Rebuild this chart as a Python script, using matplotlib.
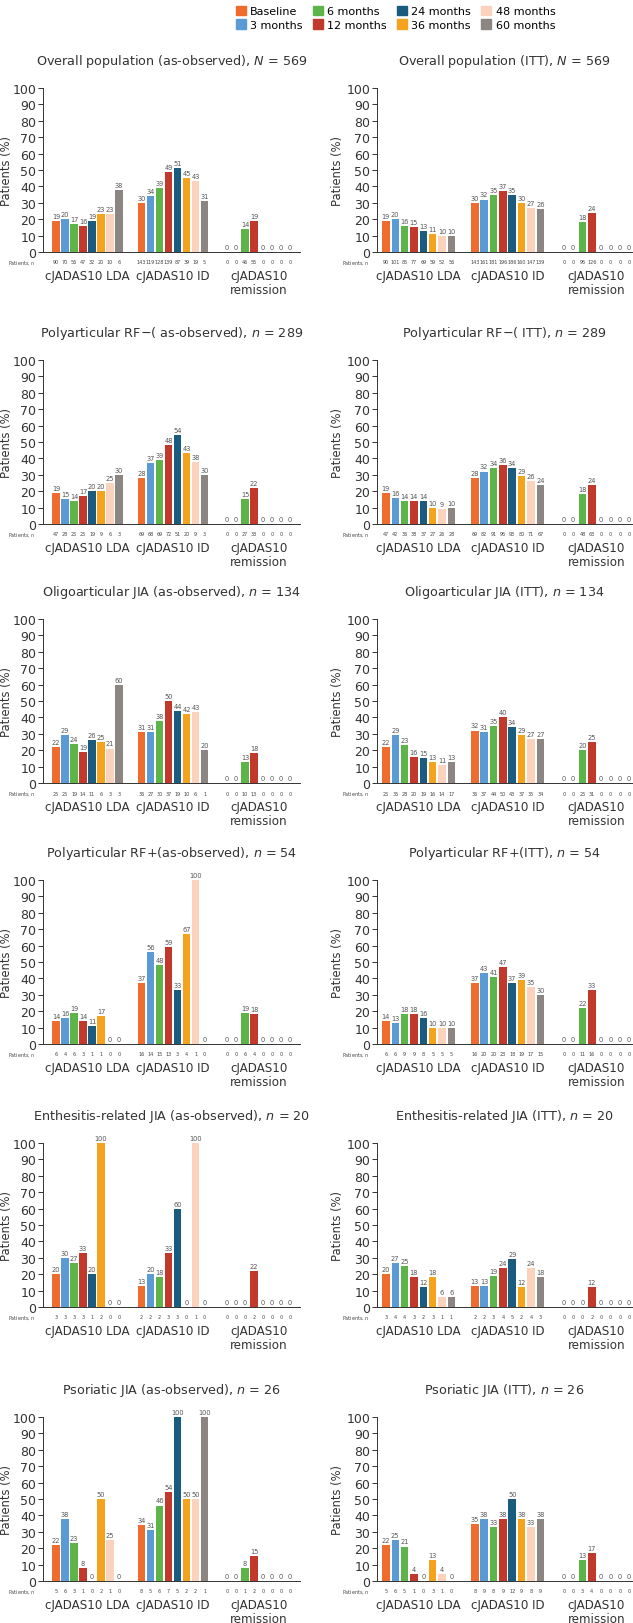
import matplotlib.pyplot as plt
from matplotlib.patches import Patch

plt.rcParams['font.family'] = ['DejaVu Sans']

# series names and colours
months = ['Baseline', '3 months', '6 months', '12 months',
          '24 months', '36 months', '48 months', '60 months']
colors = ['#EF6C2F', '#5B9BD5', '#5DB54A', '#C0392B',
          '#1A5C80', '#F5A21C', '#FBD3BC', '#8C8581']
groups = ['cJADAS10 LDA', 'cJADAS10 ID', 'cJADAS10\nremission']

# % of patients per group (LDA, ID, remission) and patients n
overall_obs_pct = [[19, 20, 17, 16, 19, 23, 23, 38], [30, 34, 39, 49, 51, 45, 43, 31], [0, 0, 14, 19, 0, 0, 0, 0]]
overall_obs_n = [[90, 70, 56, 47, 32, 20, 10, 6], [143, 119, 128, 139, 87, 39, 19, 5], [0, 0, 46, 55, 0, 0, 0, 0]]
overall_itt_pct = [[19, 20, 16, 15, 13, 11, 10, 10], [30, 32, 35, 37, 35, 30, 27, 26], [0, 0, 18, 24, 0, 0, 0, 0]]
overall_itt_n = [[90, 101, 85, 77, 69, 59, 52, 56], [143, 161, 181, 196, 186, 160, 147, 139], [0, 0, 96, 126, 0, 0, 0, 0]]

polyneg_obs_pct = [[19, 15, 14, 17, 20, 20, 25, 30], [28, 37, 39, 48, 54, 43, 38, 30], [0, 0, 15, 22, 0, 0, 0, 0]]
polyneg_obs_n = [[47, 28, 25, 25, 19, 9, 6, 3], [69, 68, 69, 72, 51, 20, 9, 3], [0, 0, 27, 33, 0, 0, 0, 0]]
polyneg_itt_pct = [[19, 16, 14, 14, 14, 10, 9, 10], [28, 32, 34, 36, 34, 29, 26, 24], [0, 0, 18, 24, 0, 0, 0, 0]]
polyneg_itt_n = [[47, 42, 36, 38, 37, 27, 26, 28], [69, 82, 91, 96, 93, 80, 71, 67], [0, 0, 48, 63, 0, 0, 0, 0]]

oligo_obs_pct = [[22, 29, 24, 19, 26, 25, 21, 60], [31, 31, 38, 50, 44, 42, 43, 20], [0, 0, 13, 18, 0, 0, 0, 0]]
oligo_obs_n = [[25, 25, 19, 14, 11, 6, 3, 3], [36, 27, 30, 37, 19, 10, 6, 1], [0, 0, 10, 13, 0, 0, 0, 0]]
oligo_itt_pct = [[22, 29, 23, 16, 15, 13, 11, 13], [32, 31, 35, 40, 34, 29, 27, 27], [0, 0, 20, 25, 0, 0, 0, 0]]
oligo_itt_n = [[25, 35, 28, 20, 19, 16, 14, 17], [36, 37, 44, 50, 43, 37, 35, 34], [0, 0, 25, 31, 0, 0, 0, 0]]

polypos_obs_pct = [[14, 16, 19, 14, 11, 17, 0, 0], [37, 56, 48, 59, 33, 67, 100, 0], [0, 0, 19, 18, 0, 0, 0, 0]]
polypos_obs_n = [[6, 4, 6, 3, 1, 1, 0, 0], [16, 14, 15, 13, 3, 4, 1, 0], [0, 0, 6, 4, 0, 0, 0, 0]]
polypos_itt_pct = [[14, 13, 18, 18, 16, 10, 10, 10], [37, 43, 41, 47, 37, 39, 35, 30], [0, 0, 22, 33, 0, 0, 0, 0]]
polypos_itt_n = [[6, 6, 9, 9, 8, 5, 5, 5], [16, 20, 20, 23, 18, 19, 17, 15], [0, 0, 11, 16, 0, 0, 0, 0]]

era_obs_pct = [[20, 30, 27, 33, 20, 100, 0, 0], [13, 20, 18, 33, 60, 0, 100, 0], [0, 0, 0, 22, 0, 0, 0, 0]]
era_obs_n = [[3, 3, 3, 3, 1, 2, 0, 0], [2, 2, 2, 3, 3, 0, 1, 0], [0, 0, 0, 2, 0, 0, 0, 0]]
era_itt_pct = [[20, 27, 25, 18, 12, 18, 6, 6], [13, 13, 19, 24, 29, 12, 24, 18], [0, 0, 0, 12, 0, 0, 0, 0]]
era_itt_n = [[3, 4, 4, 3, 2, 3, 1, 1], [2, 2, 3, 4, 5, 2, 4, 3], [0, 0, 0, 2, 0, 0, 0, 0]]

pso_obs_pct = [[22, 38, 23, 8, 0, 50, 25, 0], [34, 31, 46, 54, 100, 50, 50, 100], [0, 0, 8, 15, 0, 0, 0, 0]]
pso_obs_n = [[5, 6, 3, 1, 0, 2, 1, 0], [8, 5, 6, 7, 5, 2, 2, 1], [0, 0, 1, 2, 0, 0, 0, 0]]
pso_itt_pct = [[22, 25, 21, 4, 0, 13, 4, 0], [35, 38, 33, 38, 50, 38, 33, 38], [0, 0, 13, 17, 0, 0, 0, 0]]
pso_itt_n = [[5, 6, 5, 1, 0, 3, 1, 0], [8, 9, 8, 9, 12, 9, 8, 9], [0, 0, 3, 4, 0, 0, 0, 0]]

titles = [
    ('Overall population (as-observed), $N$ = 569', 'Overall population (ITT), $N$ = 569'),
    ('Polyarticular RF\u2212( as-observed), $n$ = 289', 'Polyarticular RF\u2212( ITT), $n$ = 289'),
    ('Oligoarticular JIA (as-observed), $n$ = 134', 'Oligoarticular JIA (ITT), $n$ = 134'),
    ('Polyarticular RF+(as-observed), $n$ = 54', 'Polyarticular RF+(ITT), $n$ = 54'),
    ('Enthesitis-related JIA (as-observed), $n$ = 20', 'Enthesitis-related JIA (ITT), $n$ = 20'),
    ('Psoriatic JIA (as-observed), $n$ = 26', 'Psoriatic JIA (ITT), $n$ = 26'),
]
data = [
    ((overall_obs_pct, overall_obs_n), (overall_itt_pct, overall_itt_n)),
    ((polyneg_obs_pct, polyneg_obs_n), (polyneg_itt_pct, polyneg_itt_n)),
    ((oligo_obs_pct, oligo_obs_n), (oligo_itt_pct, oligo_itt_n)),
    ((polypos_obs_pct, polypos_obs_n), (polypos_itt_pct, polypos_itt_n)),
    ((era_obs_pct, era_obs_n), (era_itt_pct, era_itt_n)),
    ((pso_obs_pct, pso_obs_n), (pso_itt_pct, pso_itt_n)),
]

W, H = 633, 1624
fig = plt.figure(figsize=(W / 100, H / 100), dpi=100)

zero_y = [253, 525, 784, 1045, 1308, 1582]   # pixel row of the 0 line
ax_h = 164
# left edge, width, xlim, ylabel x (axes coords)
cols = [(43, 257, (-1.45, 27.1), -0.118), (377, 255, (-0.95, 26.3), -0.13)]
group_off = [0, 9.5, 19]
dark = '#333333'

for r in range(6):
    for c in range(2):
        left, width, xl, lab_x = cols[c]
        ax = fig.add_axes([left / W, 1 - zero_y[r] / H, width / W, ax_h / H])
        pct, n = data[r][c]
        for g in range(3):
            for i in range(8):
                x = group_off[g] + i
                ax.bar(x, pct[g][i], width=0.8, color=colors[i])
                ax.annotate(str(pct[g][i]), (x, pct[g][i]), xytext=(0, 1.5),
                            textcoords='offset points', ha='center', va='bottom',
                            fontsize=4.8, color='#555555', annotation_clip=False)
                ax.annotate(str(n[g][i]), (x, 0), xytext=(0, -7.2),
                            textcoords='offset points', ha='center', va='center',
                            fontsize=3.5, color='#444444', annotation_clip=False)
            ax.annotate(groups[g], (group_off[g] + 3.5, 0), xytext=(0, -12.5),
                        textcoords='offset points', ha='center', va='top',
                        fontsize=8.6, color=dark, linespacing=1.02,
                        annotation_clip=False)
        ax.annotate('Patients, $n$', (0, 0), xycoords='axes fraction',
                    xytext=(-5, -7.2), textcoords='offset points',
                    ha='right', va='center', fontsize=3.5, color='#444444')
        ax.annotate(titles[r][c], (0.5, 1), xycoords='axes fraction',
                    xytext=(0, 19.5), textcoords='offset points',
                    ha='center', va='center', fontsize=9.2, color=dark)
        ax.set_xlim(*xl)
        ax.set_ylim(0, 100)
        ax.set_yticks(range(0, 101, 10))
        ax.set_xticks([])
        ax.set_ylabel('Patients (%)', fontsize=8.3, color=dark)
        ax.yaxis.set_label_coords(lab_x, 0.5)
        ax.tick_params(axis='y', labelsize=9, colors=dark, length=3.5, width=0.7, pad=1.5)
        for s in ['top', 'right']:
            ax.spines[s].set_visible(False)
        ax.spines['left'].set_color(dark)
        ax.spines['bottom'].set_color(dark)
        ax.spines['left'].set_linewidth(0.7)
        ax.spines['bottom'].set_linewidth(0.7)

handles = [Patch(color=colors[i], label=months[i]) for i in range(8)]
fig.legend(handles=handles, ncol=4, loc='upper center', bbox_to_anchor=(0.625, 1.0),
           frameon=False, fontsize=8, handlelength=0.9, handleheight=0.9,
           handletextpad=0.4, columnspacing=0.9, labelspacing=0.3,
           borderaxespad=0.2)

plt.savefig('out.png', dpi=100)
